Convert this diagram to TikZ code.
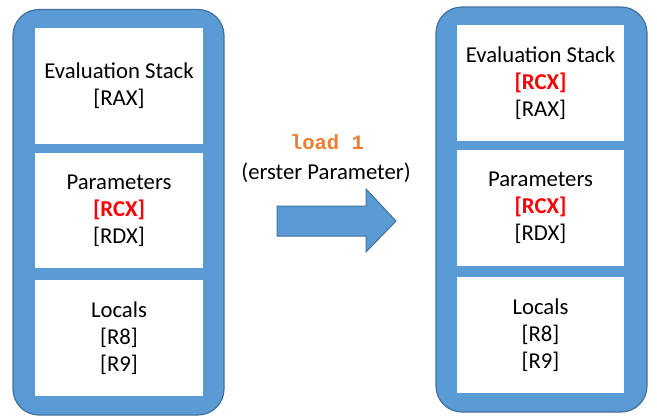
\documentclass[tikz,border=0pt]{standalone}
\usepackage{fontspec}
\setmainfont{Carlito}
\newfontfamily\codefont{Liberation Mono}
\definecolor{panelfill}{HTML}{5B9BD5}
\definecolor{panelline}{HTML}{41719C}
\definecolor{cmdorange}{HTML}{ED7D31}
\definecolor{regred}{HTML}{FF0000}
\begin{document}
\begin{tikzpicture}[x=1pt,y=-1pt,
  panel/.style={draw=panelline, fill=panelfill, line width=1.2pt, rounded corners=26pt, minimum width=211pt, inner sep=0pt},
  cell/.style={fill=white, inner sep=0pt, align=center, font=\fontsize{22.7}{27}\selectfont},
  txt/.style={inner sep=0pt, font=\fontsize{22.7}{27}\selectfont}]
\newcommand{\hl}[1]{\textcolor{regred}{\textbf{#1}}}
\useasboundingbox (0,0) rectangle (657,418);
% left panel
\node[panel, minimum height=405.5pt] (lp) at (118.5,212.25) {};
\node[cell, minimum width=168pt, minimum height=116pt] (l1) at (119,86) {Evaluation Stack\\ {[RAX]}};
\node[cell, minimum width=168pt, minimum height=115pt] (l2) at (119,210.5) {Parameters\\ \hl{[RCX]}\\ {[RDX]}};
\node[cell, minimum width=168pt, minimum height=116pt] (l3) at (119,338) {Locals\\ {[R8]}\\ {[R9]}};
% right panel
\node[panel, minimum height=405pt] (rp) at (541.5,209.5) {};
\node[cell, minimum width=167pt, minimum height=116pt] (r1) at (540.5,83) {Evaluation Stack\\ \hl{[RCX]}\\ {[RAX]}};
\node[cell, minimum width=167pt, minimum height=116pt] (r2) at (540.5,208) {Parameters\\ \hl{[RCX]}\\ {[RDX]}};
\node[cell, minimum width=167pt, minimum height=116pt] (r3) at (540.5,335) {Locals\\ {[R8]}\\ {[R9]}};
% arrow
\draw[draw=panelline, fill=panelfill, line width=1pt]
  (277,206) -- (366,206) -- (366,189) -- (396,221) -- (366,252) -- (366,236) -- (277,236) -- cycle;
\node[txt, text=cmdorange, font=\fontsize{20.5}{27}\selectfont] (cmd) at (327,142) {\codefont\bfseries load 1};
\node[txt] (desc) at (326,173) {(erster Parameter)};
\end{tikzpicture}
\end{document}
